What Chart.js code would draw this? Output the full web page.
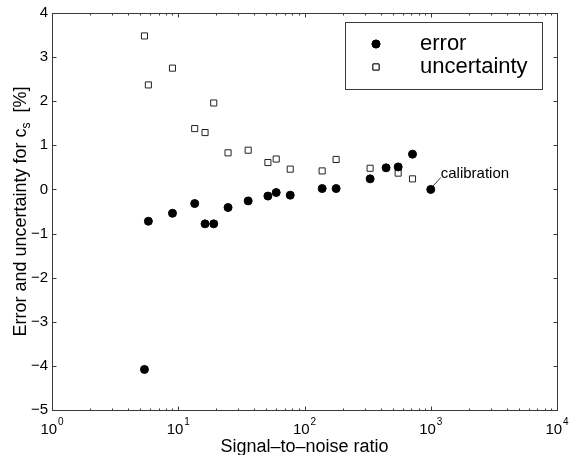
<!DOCTYPE html>
<html>
<head>
<meta charset="utf-8">
<script src="https://cdn.jsdelivr.net/npm/chart.js@4"></script>
<style>
  html, body { margin: 0; padding: 0; background: #fff; }
  #wrap { width: 569px; height: 455px; }
</style>
</head>
<body>
<div id="wrap"><canvas id="snrChart" width="569" height="455"></canvas></div>
<script>
// values
const snr = [5.4, 5.8, 9.0, 13.5, 16.3, 19.1, 24.8, 35.8, 51.3, 59.7, 77.1, 138, 178, 331, 443, 552, 717, 1000];
const errorPct = [-4.08, -0.72, -0.54, -0.32, -0.78, -0.78, -0.41, -0.26, -0.15, -0.07, -0.13, 0.02, 0.02, 0.24, 0.49, 0.51, 0.80, 0.00];
const uncertaintyPct = [3.48, 2.37, 2.75, 1.38, 1.29, 1.96, 0.83, 0.89, 0.61, 0.69, 0.46, 0.42, 0.68, 0.48, null, 0.37, 0.24, null];
const yTicks = [-5, -4, -3, -2, -1, 0, 1, 2, 3, 4];
const xDecades = [0, 1, 2, 3, 4];
const calibrationIndex = 17;

const FONT = '"Liberation Sans", Arial, Helvetica, sans-serif';
const AXIS_COLOR = '#3a3a3a';

const errorPoints = snr.map((x, i) => ({ x: x, y: errorPct[i] }));
const uncertaintyPoints = snr
    .map((x, i) => ({ x: x, y: uncertaintyPct[i] }))
    .filter(p => p.y !== null);

// MATLAB-style box, inward ticks, labels, legend and annotation
const decorPlugin = {
    id: 'decor',
    afterDraw(chart) {
        const ctx = chart.ctx;
        const area = chart.chartArea;
        const xs = chart.scales.x;
        const ys = chart.scales.y;
        const L = Math.round(area.left) + 0.5;
        const R = Math.round(area.right) + 0.5;
        const T = Math.round(area.top) + 0.5;
        const B = Math.round(area.bottom) + 0.5;

        ctx.save();
        ctx.strokeStyle = AXIS_COLOR;
        ctx.lineWidth = 1;
        ctx.strokeRect(L, T, R - L, B - T);

        // y ticks on both sides
        ctx.beginPath();
        yTicks.forEach(v => {
            const py = Math.round(ys.getPixelForValue(v)) + 0.5;
            ctx.moveTo(L, py); ctx.lineTo(L + 4, py);
            ctx.moveTo(R, py); ctx.lineTo(R - 4, py);
        });
        // x major + minor ticks top and bottom
        xDecades.forEach(k => {
            const px = Math.round(xs.getPixelForValue(Math.pow(10, k))) + 0.5;
            ctx.moveTo(px, B); ctx.lineTo(px, B - 4);
            ctx.moveTo(px, T); ctx.lineTo(px, T + 4);
            if (k < 4) {
                for (let m = 2; m <= 9; m++) {
                    const pm = Math.round(xs.getPixelForValue(m * Math.pow(10, k))) + 0.5;
                    ctx.moveTo(pm, B); ctx.lineTo(pm, B - 2);
                    ctx.moveTo(pm, T); ctx.lineTo(pm, T + 2);
                }
            }
        });
        ctx.stroke();

        // x tick labels 10^k
        ctx.fillStyle = '#000';
        ctx.textBaseline = 'alphabetic';
        xDecades.forEach(k => {
            const px = xs.getPixelForValue(Math.pow(10, k));
            ctx.font = '15px ' + FONT;
            const wBase = ctx.measureText('10').width;
            ctx.font = '10px ' + FONT;
            const wExp = ctx.measureText(String(k)).width;
            const start = px - (wBase + wExp + 1) / 2;
            ctx.font = '15px ' + FONT;
            ctx.textAlign = 'left';
            ctx.fillText('10', start, 434);
            ctx.font = '10px ' + FONT;
            ctx.fillText(String(k), start + wBase + 1, 425);
        });

        // x title
        ctx.font = '18px ' + FONT;
        ctx.textAlign = 'center';
        ctx.textBaseline = 'middle';
        ctx.fillText('Signal\u2013to\u2013noise ratio', (area.left + area.right) / 2, 447);

        // y title with subscript
        ctx.save();
        ctx.translate(21, (area.top + area.bottom) / 2);
        ctx.rotate(-Math.PI / 2);
        ctx.textAlign = 'left';
        ctx.textBaseline = 'middle';
        const partA = 'Error and uncertainty for c';
        const partB = 's';
        const partC = '  [%]';
        ctx.font = '18px ' + FONT;
        const wA = ctx.measureText(partA).width;
        const wC = ctx.measureText(partC).width;
        ctx.font = '12px ' + FONT;
        const wB = ctx.measureText(partB).width;
        let cx = -(wA + wB + wC) / 2;
        ctx.font = '18px ' + FONT;
        ctx.fillText(partA, cx, 0);
        cx += wA;
        ctx.font = '12px ' + FONT;
        ctx.fillText(partB, cx, 6);
        cx += wB;
        ctx.font = '18px ' + FONT;
        ctx.fillText(partC, cx, 0);
        ctx.restore();

        // legend
        ctx.fillStyle = '#fff';
        ctx.fillRect(345.5, 22.5, 197, 67);
        ctx.strokeStyle = AXIS_COLOR;
        ctx.strokeRect(345.5, 22.5, 197, 67);
        const rows = [{ ds: chart.data.datasets[0], y: 44 }, { ds: chart.data.datasets[1], y: 67 }];
        rows.forEach(row => {
            const ds = row.ds;
            Chart.helpers.drawPoint(ctx, {
                pointStyle: ds.pointStyle,
                radius: ds.pointRadius,
                borderWidth: ds.borderWidth,
                rotation: 0
            }, 376, row.y);
            ctx.fillStyle = ds.backgroundColor;
            ctx.strokeStyle = ds.borderColor;
            ctx.lineWidth = ds.borderWidth;
            ctx.beginPath();
            if (ds.pointStyle === 'circle') {
                ctx.arc(376, row.y, ds.pointRadius, 0, Math.PI * 2);
            } else {
                const s = Math.SQRT1_2 * ds.pointRadius;
                ctx.rect(376 - s, row.y - s, 2 * s, 2 * s);
            }
            ctx.fill();
            ctx.stroke();
            ctx.fillStyle = '#000';
            ctx.font = '22px ' + FONT;
            ctx.textAlign = 'left';
            ctx.textBaseline = 'middle';
            ctx.fillText(ds.label, 420, row.y);
        });

        // calibration annotation
        const cpx = xs.getPixelForValue(snr[calibrationIndex]);
        const cpy = ys.getPixelForValue(errorPct[calibrationIndex]);
        ctx.strokeStyle = '#000';
        ctx.lineWidth = 0.8;
        ctx.beginPath();
        ctx.moveTo(cpx + 2, cpy - 3);
        ctx.lineTo(cpx + 10, cpy - 12);
        ctx.stroke();
        ctx.fillStyle = '#000';
        ctx.font = '15px ' + FONT;
        ctx.textAlign = 'left';
        ctx.textBaseline = 'middle';
        ctx.fillText('calibration', cpx + 10, cpy - 16);

        ctx.restore();
    }
};

new Chart(document.getElementById('snrChart'), {
    type: 'scatter',
    data: {
        datasets: [{
            label: 'error',
            data: errorPoints,
            pointStyle: 'circle',
            pointRadius: 4,
            backgroundColor: '#000',
            borderColor: '#000',
            borderWidth: 1
        }, {
            label: 'uncertainty',
            data: uncertaintyPoints,
            pointStyle: 'rect',
            pointRadius: 4.3,
            backgroundColor: '#fff',
            borderColor: '#222',
            borderWidth: 1
        }]
    },
    options: {
        responsive: false,
        animation: false,
        devicePixelRatio: 1,
        layout: { padding: { top: 13, right: 12, left: 0, bottom: 0 } },
        plugins: {
            legend: { display: false },
            tooltip: { enabled: false }
        },
        scales: {
            x: {
                type: 'logarithmic',
                min: 1,
                max: 10000,
                grid: { display: false, drawTicks: false },
                border: { display: false },
                ticks: { display: false },
                afterFit: function(scale) { scale.height = 45; }
            },
            y: {
                type: 'linear',
                min: -5,
                max: 4,
                grid: { display: false, drawTicks: false },
                border: { display: false },
                ticks: {
                    stepSize: 1,
                    padding: 4,
                    color: '#000',
                    font: { size: 15, family: FONT },
                    callback: function(value) {
                        return value < 0 ? '\u2212' + Math.abs(value) : String(value);
                    }
                },
                afterFit: function(scale) { scale.width = 52; }
            }
        }
    },
    plugins: [decorPlugin]
});
</script>
</body>
</html>
